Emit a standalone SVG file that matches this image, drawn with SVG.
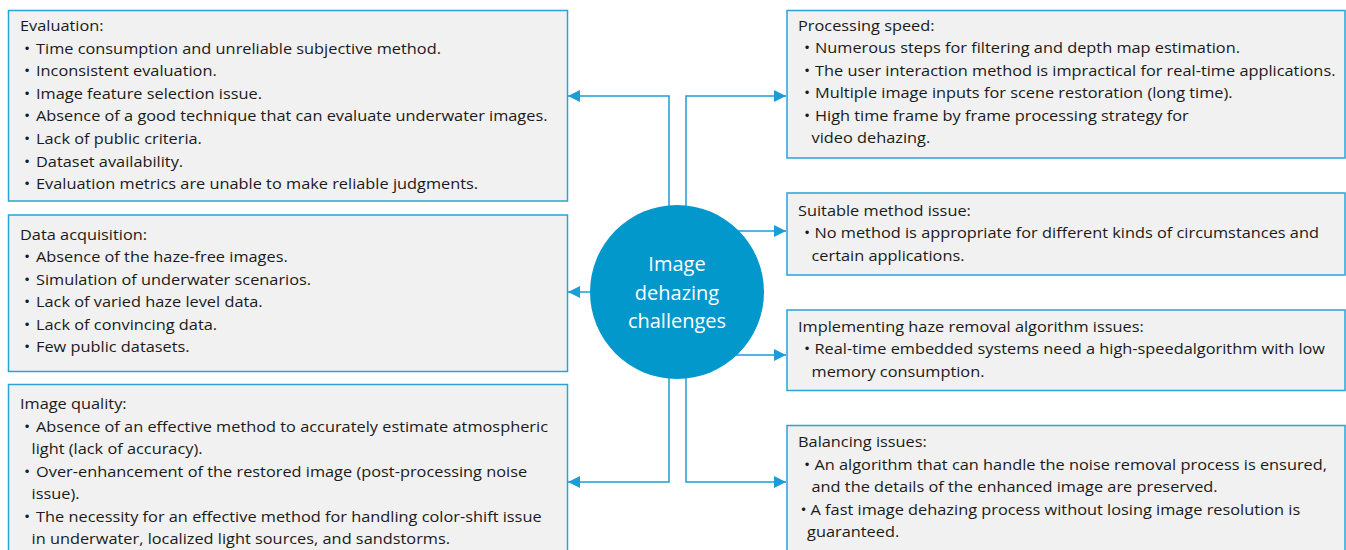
<svg xmlns="http://www.w3.org/2000/svg" width="1346" height="550" viewBox="0 0 1346 550">
<defs>
<style>
.box{fill:#f1f1f1;stroke:#2aa3d8;stroke-width:1.5}
.t{font-family:"Open Sans","Liberation Sans",sans-serif;font-size:15px;fill:#1a1a1a}
.c{font-family:"Open Sans","Liberation Sans",sans-serif;font-size:20px;fill:#ffffff;text-anchor:middle}
.ln{fill:none;stroke:#1d9dd5;stroke-width:1.5}
</style>
<marker id="ah" viewBox="0 0 12 12" refX="12" refY="6" markerWidth="12" markerHeight="12" markerUnits="userSpaceOnUse" orient="auto">
<path d="M0,0 L12,6 L0,12 Z" fill="#1d9dd5"/>
</marker>
</defs>
<rect width="1346" height="550" fill="#ffffff"/>

<g id="connectors">
<path class="ln" d="M669,215 V96 H568" marker-end="url(#ah)"/>
<path class="ln" d="M686,215 V96 H786" marker-end="url(#ah)"/>
<path class="ln" d="M669,370 V482 H568" marker-end="url(#ah)"/>
<path class="ln" d="M686,370 V482 H786" marker-end="url(#ah)"/>
<path class="ln" d="M600,292 H568" marker-end="url(#ah)"/>
<path class="ln" d="M730,231 H786" marker-end="url(#ah)"/>
<path class="ln" d="M730,355 H786" marker-end="url(#ah)"/>
</g>

<g id="center">
<circle cx="677" cy="292" r="87" fill="#0398cc"/>
<text class="c" x="677" y="271">Image</text>
<text class="c" x="677" y="299.5">dehazing</text>
<text class="c" x="677" y="327.5">challenges</text>
</g>

<g id="evaluation">
<rect class="box" x="8.5" y="10.5" width="559" height="190.5"/>
<g transform="translate(20,0) scale(1.09,1)">
<text class="t" x="0" y="31">Evaluation:</text>
<text class="t" x="3.7" y="53.6">•</text><text class="t" x="14.7" y="53.6">Time consumption and unreliable subjective method.</text>
<text class="t" x="3.7" y="76.2">•</text><text class="t" x="14.7" y="76.2">Inconsistent evaluation.</text>
<text class="t" x="3.7" y="98.8">•</text><text class="t" x="14.7" y="98.8">Image feature selection issue.</text>
<text class="t" x="3.7" y="121.4">•</text><text class="t" x="14.7" y="121.4">Absence of a good technique that can evaluate underwater images.</text>
<text class="t" x="3.7" y="144">•</text><text class="t" x="14.7" y="144">Lack of public criteria.</text>
<text class="t" x="3.7" y="166.6">•</text><text class="t" x="14.7" y="166.6">Dataset availability.</text>
<text class="t" x="3.7" y="189.2">•</text><text class="t" x="14.7" y="189.2">Evaluation metrics are unable to make reliable judgments.</text>
</g>
</g>

<g id="data-acquisition">
<rect class="box" x="8.5" y="215" width="559" height="156.5"/>
<g transform="translate(20,0) scale(1.09,1)">
<text class="t" x="0" y="240">Data acquisition:</text>
<text class="t" x="3.7" y="262.4">•</text><text class="t" x="14.7" y="262.4">Absence of the haze-free images.</text>
<text class="t" x="3.7" y="284.8">•</text><text class="t" x="14.7" y="284.8">Simulation of underwater scenarios.</text>
<text class="t" x="3.7" y="307.2">•</text><text class="t" x="14.7" y="307.2">Lack of varied haze level data.</text>
<text class="t" x="3.7" y="329.6">•</text><text class="t" x="14.7" y="329.6">Lack of convincing data.</text>
<text class="t" x="3.7" y="352">•</text><text class="t" x="14.7" y="352">Few public datasets.</text>
</g>
</g>

<g id="image-quality">
<rect class="box" x="8.5" y="384.5" width="559" height="180"/>
<g transform="translate(20,0) scale(1.09,1)">
<text class="t" x="0" y="409.3">Image quality:</text>
<text class="t" x="3.7" y="431.8">•</text><text class="t" x="14.7" y="431.8">Absence of an effective method to accurately estimate atmospheric</text>
<text class="t" x="10.6" y="454.3">light (lack of accuracy).</text>
<text class="t" x="3.7" y="476.8">•</text><text class="t" x="14.7" y="476.8">Over-enhancement of the restored image (post-processing noise</text>
<text class="t" x="10.6" y="499.3">issue).</text>
<text class="t" x="3.7" y="521.8">•</text><text class="t" x="14.7" y="521.8">The necessity for an effective method for handling color-shift issue</text>
<text class="t" x="10.6" y="544.3">in underwater, localized light sources, and sandstorms.</text>
</g>
</g>

<g id="processing-speed">
<rect class="box" x="787" y="10.5" width="558" height="147.5"/>
<g transform="translate(798,0) scale(1.09,1)">
<text class="t" x="0" y="31">Processing speed:</text>
<text class="t" x="5.5" y="53.5">•</text><text class="t" x="15.6" y="53.5">Numerous steps for filtering and depth map estimation.</text>
<text class="t" x="5.5" y="76">•</text><text class="t" x="15.6" y="76">The user interaction method is impractical for real-time applications.</text>
<text class="t" x="5.5" y="98.5">•</text><text class="t" x="15.6" y="98.5">Multiple image inputs for scene restoration (long time).</text>
<text class="t" x="5.5" y="121">•</text><text class="t" x="15.6" y="121">High time frame by frame processing strategy for</text>
<text class="t" x="12.4" y="143.5">video dehazing.</text>
</g>
</g>

<g id="suitable-method">
<rect class="box" x="787" y="193" width="558" height="82"/>
<g transform="translate(798,0) scale(1.09,1)">
<text class="t" x="0" y="216">Suitable method issue:</text>
<text class="t" x="5.5" y="238.5">•</text><text class="t" x="15.1" y="238.5">No method is appropriate for different kinds of circumstances and</text>
<text class="t" x="12.4" y="261">certain applications.</text>
</g>
</g>

<g id="implementing">
<rect class="box" x="787" y="310" width="558" height="80.5"/>
<g transform="translate(798,0) scale(1.09,1)">
<text class="t" x="0" y="331.7">Implementing haze removal algorithm issues:</text>
<text class="t" x="5.5" y="354.3">•</text><text class="t" x="15.1" y="354.3">Real-time embedded systems need a high-speedalgorithm with low</text>
<text class="t" x="12.4" y="376.8">memory consumption.</text>
</g>
</g>

<g id="balancing">
<rect class="box" x="787" y="425.5" width="558" height="140"/>
<g transform="translate(798,0) scale(1.09,1)">
<text class="t" x="0" y="447.3">Balancing issues:</text>
<text class="t" x="5.5" y="470">•</text><text class="t" x="15.1" y="470">An algorithm that can handle the noise removal process is ensured,</text>
<text class="t" x="12.4" y="492.4">and the details of the enhanced image are preserved.</text>
<text class="t" x="2.3" y="514.8">•</text><text class="t" x="11.5" y="514.8">A fast image dehazing process without losing image resolution is</text>
<text class="t" x="8.3" y="537.2">guaranteed.</text>
</g>
</g>
</svg>
